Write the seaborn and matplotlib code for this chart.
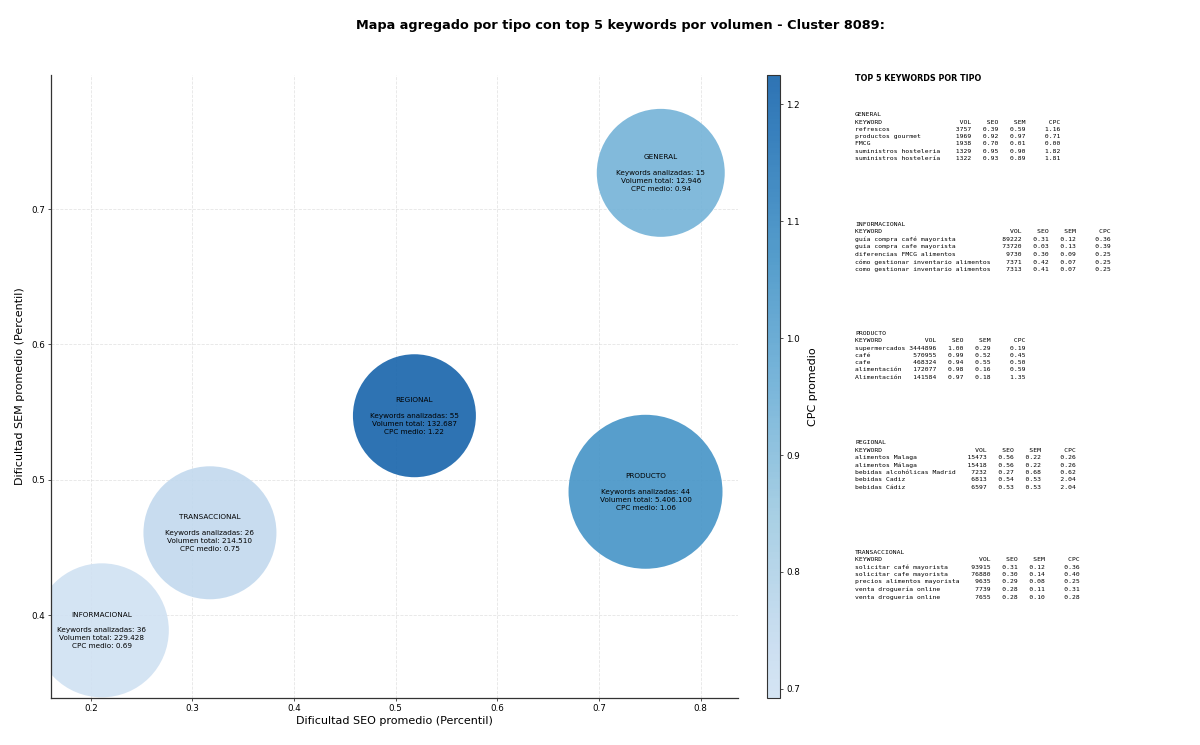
import numpy as np
import pandas as pd
import matplotlib
matplotlib.use("Agg")
import matplotlib.pyplot as plt
import seaborn as sns
from matplotlib.colors import ListedColormap, Normalize
from matplotlib.cm import ScalarMappable

# ---------------- data ----------------
tipos = ["GENERAL", "INFORMACIONAL", "PRODUCTO", "REGIONAL", "TRANSACCIONAL"]
seo_medio = [0.7608, 0.2108, 0.7458, 0.5184, 0.3172]
sem_medio = [0.7268, 0.3887, 0.4911, 0.5473, 0.4608]
cpc_medio = [0.94, 0.6923, 1.06, 1.2248, 0.75]
n_keywords = [15, 36, 44, 55, 26]
volumen_total = [12946, 229428, 5406100, 132687, 214510]
tamano_burbuja = [8490, 9310, 12290, 7840, 9170]

top_general_kw = ["refrescos", "productos gourmet", "FMCG", "suministros hosteleria", "suministros hostelería"]
top_general_vol = [3757, 1969, 1938, 1329, 1322]
top_general_seo = [0.39, 0.92, 0.70, 0.95, 0.93]
top_general_sem = [0.59, 0.97, 0.01, 0.90, 0.89]
top_general_cpc = [1.16, 0.71, 0.00, 1.82, 1.81]

top_info_kw = ["guía compra café mayorista", "guia compra cafe mayorista", "diferencias FMCG alimentos",
               "cómo gestionar inventario alimentos", "como gestionar inventario alimentos"]
top_info_vol = [89222, 73720, 9730, 7371, 7313]
top_info_seo = [0.31, 0.03, 0.30, 0.42, 0.41]
top_info_sem = [0.12, 0.13, 0.09, 0.07, 0.07]
top_info_cpc = [0.36, 0.39, 0.25, 0.25, 0.25]

top_prod_kw = ["supermercados", "café", "cafe", "alimentación", "Alimentación"]
top_prod_vol = [3444896, 570955, 468324, 172077, 141584]
top_prod_seo = [1.00, 0.99, 0.94, 0.98, 0.97]
top_prod_sem = [0.29, 0.52, 0.55, 0.16, 0.18]
top_prod_cpc = [0.19, 0.45, 0.50, 0.59, 1.35]

top_reg_kw = ["alimentos Malaga", "alimentos Málaga", "bebidas alcohólicas Madrid", "bebidas Cadiz", "bebidas Cádiz"]
top_reg_vol = [15473, 15418, 7232, 6813, 6597]
top_reg_seo = [0.56, 0.56, 0.27, 0.54, 0.53]
top_reg_sem = [0.22, 0.22, 0.68, 0.53, 0.53]
top_reg_cpc = [0.26, 0.26, 0.62, 2.04, 2.04]

top_trans_kw = ["solicitar café mayorista", "solicitar cafe mayorista", "precios alimentos mayorista",
                "venta droguería online", "venta drogueria online"]
top_trans_vol = [93915, 76880, 9635, 7739, 7655]
top_trans_seo = [0.31, 0.30, 0.29, 0.28, 0.28]
top_trans_sem = [0.12, 0.14, 0.08, 0.11, 0.10]
top_trans_cpc = [0.36, 0.40, 0.25, 0.31, 0.28]

titulo = "Mapa agregado por tipo con top 5 keywords por volumen - Cluster 8089:"

# ---------------- figure ----------------
sns.set_theme(style="ticks")
plt.rcParams["font.family"] = ["DejaVu Sans"]
plt.rcParams["text.color"] = "black"
plt.rcParams["axes.labelcolor"] = "black"

df = pd.DataFrame({"tipo": tipos, "seo": seo_medio, "sem": sem_medio, "cpc": cpc_medio,
                   "n": n_keywords, "vol": volumen_total, "size": tamano_burbuja})

alpha = 0.9
base = plt.cm.Blues(np.linspace(0.20, 0.80, 256))
cmap = ListedColormap(base)
blended = base.copy()
blended[:, :3] = alpha * base[:, :3] + (1 - alpha)
cmap_bar = ListedColormap(blended)
norm = Normalize(vmin=min(cpc_medio), vmax=max(cpc_medio))

fig = plt.figure(figsize=(12, 7.45), dpi=100)
ax = fig.add_axes([0.0425, 0.0631, 0.5725, 0.8362])
cax = fig.add_axes([0.6392, 0.0631, 0.0108, 0.8362])

sns.scatterplot(data=df, x="seo", y="sem", hue="cpc", palette=cmap, hue_norm=norm,
                size="size", sizes=(min(tamano_burbuja), max(tamano_burbuja)),
                alpha=alpha, linewidth=0, legend=False, ax=ax, zorder=2)

for _, r in df.iterrows():
    vol_txt = f"{int(r['vol']):,}".replace(",", ".")
    txt = f"{r['tipo']}\n\nKeywords analizadas: {int(r['n'])}\nVolumen total: {vol_txt}\nCPC medio: {r['cpc']:.2f}"
    ax.text(r["seo"], r["sem"], txt, ha="center", va="center", multialignment="center",
            fontsize=5.2, color="black", linespacing=1.38, zorder=3)

ax.set_xlim(min(seo_medio) - 0.05, max(seo_medio) + 0.076)
ax.set_ylim(min(sem_medio) - 0.05, max(sem_medio) + 0.0723)
ax.set_xticks([0.2, 0.3, 0.4, 0.5, 0.6, 0.7, 0.8])
ax.set_yticks([0.4, 0.5, 0.6, 0.7])
ax.grid(True, linestyle="--", linewidth=0.6, color="#cccccc", alpha=0.5)
ax.set_axisbelow(True)
sns.despine(ax=ax)
for s in ["left", "bottom"]:
    ax.spines[s].set_color("#333333")
    ax.spines[s].set_linewidth(0.9)
ax.tick_params(labelsize=6.3, length=2.5, width=0.6, colors="#333333", labelcolor="black", pad=2)
ax.set_xlabel("Dificultad SEO promedio (Percentil)", fontsize=8, labelpad=2)
ax.set_ylabel("Dificultad SEM promedio (Percentil)", fontsize=8, labelpad=4)

sm = ScalarMappable(norm=norm, cmap=cmap_bar)
cb = fig.colorbar(sm, cax=cax)
cb.set_ticks([0.7, 0.8, 0.9, 1.0, 1.1, 1.2])
cb.ax.tick_params(labelsize=6.3, length=2.5, width=0.6, colors="#333333", labelcolor="black", pad=2)
cb.outline.set_edgecolor("#333333")
cb.outline.set_linewidth(0.8)
cb.set_label("CPC promedio", fontsize=8, labelpad=6)

fig.text(0.517, 0.966, titulo, ha="center", va="center", fontsize=9.3, fontweight="bold", color="black")

# ---------------- top keywords panel ----------------
fig.text(0.7125, 0.8953, "TOP 5 KEYWORDS POR TIPO", ha="left", va="center",
         fontsize=5.75, fontweight="bold", color="black")

bloques = [
    ("GENERAL", top_general_kw, top_general_vol, top_general_seo, top_general_sem, top_general_cpc),
    ("INFORMACIONAL", top_info_kw, top_info_vol, top_info_seo, top_info_sem, top_info_cpc),
    ("PRODUCTO", top_prod_kw, top_prod_vol, top_prod_seo, top_prod_sem, top_prod_cpc),
    ("REGIONAL", top_reg_kw, top_reg_vol, top_reg_seo, top_reg_sem, top_reg_cpc),
    ("TRANSACCIONAL", top_trans_kw, top_trans_vol, top_trans_seo, top_trans_sem, top_trans_cpc),
]
y0 = 0.849
for i, (nombre, kws, vols, seos, sems, cpcs) in enumerate(bloques):
    L = max(len(k) for k in kws)
    lines = [nombre, f"{'KEYWORD':<{L}}{'VOL':>8}{'SEO':>7}{'SEM':>7}{'CPC':>9}"]
    for k, v, s1, s2, c in zip(kws, vols, seos, sems, cpcs):
        lines.append(f"{k:<{L}}{v:>8}{s1:>7.2f}{s2:>7.2f}{c:>9.2f}")
    fig.text(0.7125, y0 - i * 0.1467, "\n".join(lines), ha="left", va="top",
             family="DejaVu Sans Mono", fontsize=4.6, linespacing=1.56, color="black")

fig.savefig("out.png", dpi=100)
